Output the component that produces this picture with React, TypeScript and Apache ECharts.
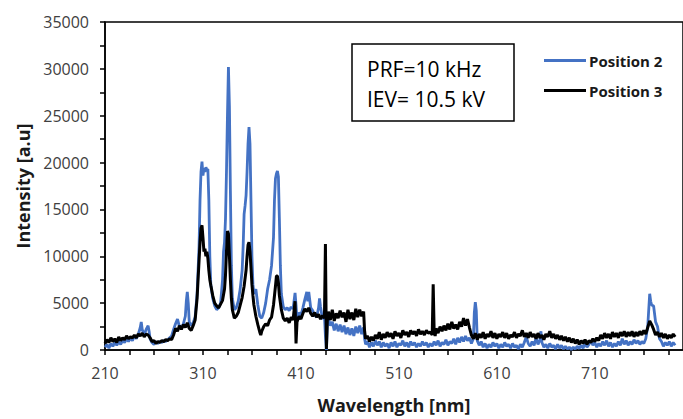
import React, { useEffect, useRef } from "react";
import * as echarts from "echarts";

const xTickLabels = [210, 310, 410, 510, 610, 710];
const yMax = 35000;
const yStep = 5000;

// Position 2 (blue): [wavelength nm, intensity a.u.]
const position2: [number, number][] = [
  [210, 300], [212, 600], [214, 200], [216, 700], [218, 400], [220, 800], [222, 500], [224, 900], [226, 600], [228, 1000],
  [230, 800], [232, 1200], [234, 900], [236, 1300], [238, 1000], [240, 1500], [242, 1200], [244, 1700], [246, 2400], [247, 3000],
  [248, 2200], [250, 1600], [252, 2200], [254, 2600], [255, 2000], [256, 1200], [258, 800], [260, 600], [262, 900], [264, 700],
  [266, 900], [268, 800], [270, 1000], [272, 900], [274, 1100], [276, 1300], [278, 1500], [280, 2200], [282, 2800], [284, 3300],
  [286, 2500], [288, 2300], [290, 2800], [292, 3600], [293, 5200], [294, 6200], [295, 5000], [296, 3000], [298, 2600], [300, 2900],
  [302, 3500], [304, 6000], [306, 11000], [307, 16000], [308, 19000], [309, 20100], [310, 18600], [311, 19400], [312, 19000], [313, 19500],
  [314, 19200], [315, 19300], [316, 16000], [317, 10000], [318, 7000], [320, 5500], [322, 4700], [324, 4300], [326, 4500], [328, 5000],
  [330, 7500], [331, 10500], [332, 11500], [333, 14000], [334, 19000], [335, 25000], [336, 30200], [337, 26000], [338, 17000], [339, 9000],
  [340, 5500], [342, 4300], [344, 4500], [346, 5200], [348, 6500], [350, 8500], [351, 11000], [352, 14500], [353, 15400], [354, 16500],
  [355, 19000], [356, 22000], [357, 23800], [358, 22000], [359, 16000], [360, 10000], [361, 7000], [362, 6000], [364, 6500], [366, 4800],
  [368, 3600], [370, 3400], [372, 4000], [374, 5000], [376, 6500], [378, 7500], [380, 9000], [382, 12000], [383, 16000], [384, 18300],
  [385, 18800], [386, 19100], [387, 18500], [388, 14000], [389, 9000], [390, 6000], [392, 4600], [394, 4300], [396, 4500], [398, 4200],
  [400, 4600], [402, 4400], [404, 6100], [405, 4800], [406, 3200], [408, 4000], [410, 3700], [412, 4500], [414, 5400], [416, 6200],
  [417, 5200], [418, 6200], [420, 4500], [422, 4200], [424, 3700], [426, 3500], [428, 4500], [429, 5500], [430, 4600], [432, 3300],
  [434, 3600], [435, 1500], [436, 0], [437, 2800], [438, 3400], [440, 2600], [442, 3000], [444, 2100], [446, 2800], [448, 2000],
  [450, 2700], [452, 1900], [454, 2600], [456, 1700], [458, 2400], [460, 1600], [462, 2300], [464, 1500], [466, 2500], [468, 1800],
  [470, 2600], [472, 1700], [474, 2400], [475, 1200], [476, 600], [478, 900], [480, 300], [482, 800], [484, 400], [486, 1000],
  [488, 500], [490, 900], [492, 300], [494, 800], [496, 400], [498, 700], [500, 200], [502, 800], [504, 400], [506, 900],
  [508, 300], [510, 700], [512, 500], [514, 1000], [516, 400], [518, 800], [520, 300], [522, 900], [524, 500], [526, 800],
  [528, 300], [530, 700], [532, 400], [534, 900], [536, 500], [538, 800], [540, 300], [542, 700], [544, 400], [546, 900],
  [548, 500], [550, 1000], [552, 400], [554, 800], [556, 600], [558, 1100], [560, 500], [562, 900], [564, 700], [566, 1200],
  [568, 600], [570, 1300], [572, 800], [574, 1400], [576, 900], [578, 1500], [580, 1000], [582, 1300], [584, 700], [586, 1200],
  [587, 4000], [588, 5100], [589, 4200], [590, 1000], [592, 500], [594, 900], [596, 300], [598, 700], [600, 200], [602, 600],
  [604, 300], [606, 800], [608, 400], [610, 700], [612, 200], [614, 600], [616, 300], [618, 800], [620, 400], [622, 600],
  [624, 200], [626, 700], [628, 300], [630, 500], [632, 100], [634, 600], [636, 300], [638, 800], [640, 1400], [642, 700],
  [644, 400], [646, 900], [648, 500], [650, 1300], [652, 600], [654, 1100], [655, 2000], [656, 800], [658, 300], [660, 600],
  [662, 200], [664, 700], [666, 300], [668, 500], [670, 100], [672, 600], [674, 200], [676, 500], [678, 100], [680, 400],
  [682, 100], [684, 300], [686, 50], [688, 300], [690, 100], [692, 400], [694, 150], [696, 500], [698, 200], [700, 700],
  [702, 300], [704, 600], [706, 1000], [708, 500], [710, 800], [712, 300], [714, 700], [716, 400], [718, 900], [720, 500],
  [722, 1000], [724, 400], [726, 800], [728, 300], [730, 700], [732, 400], [734, 900], [736, 500], [738, 1200], [740, 600],
  [742, 1000], [744, 500], [746, 900], [748, 600], [750, 1100], [752, 700], [754, 1000], [756, 600], [758, 900], [760, 700],
  [762, 1200], [764, 2500], [766, 6000], [767, 5200], [768, 4800], [770, 4700], [772, 3000], [774, 2500], [776, 1200], [778, 900],
  [780, 400], [782, 800], [784, 500], [786, 900], [788, 400], [790, 800], [792, 500]
];

// Position 3 (black): [wavelength nm, intensity a.u.]
const position3: [number, number][] = [
  [210, 700], [212, 1100], [214, 800], [216, 1300], [218, 900], [220, 1200], [222, 800], [224, 1400], [226, 1000], [228, 1300],
  [230, 1100], [232, 1500], [234, 1200], [236, 1400], [238, 1300], [240, 1600], [242, 1300], [244, 1700], [246, 1500], [248, 1800],
  [250, 1400], [252, 1700], [254, 1600], [256, 1300], [258, 900], [260, 1000], [262, 700], [264, 900], [266, 800], [268, 1000],
  [270, 900], [272, 1100], [274, 1000], [276, 1200], [278, 1100], [280, 1600], [282, 2300], [284, 2000], [286, 2600], [288, 2200],
  [290, 2700], [292, 2400], [294, 2900], [296, 2300], [298, 2100], [300, 2600], [302, 3200], [304, 5500], [306, 9500], [307, 11500],
  [308, 13000], [309, 13300], [310, 12000], [311, 10500], [312, 10800], [313, 10000], [314, 10500], [315, 9800], [316, 8500], [317, 7500],
  [318, 6900], [320, 5800], [322, 5000], [324, 4700], [326, 4500], [328, 4900], [330, 5300], [332, 6500], [333, 8000], [334, 10500],
  [335, 12700], [336, 12400], [337, 10000], [338, 7500], [339, 5500], [340, 4300], [342, 3400], [344, 3600], [346, 4000], [348, 4800],
  [350, 5600], [352, 6800], [354, 8500], [355, 10000], [356, 11200], [357, 11500], [358, 10500], [359, 8800], [360, 7000], [361, 5800],
  [362, 4800], [364, 3600], [366, 2700], [368, 1900], [369, 1600], [370, 2000], [372, 2500], [374, 2800], [376, 2600], [378, 3200],
  [380, 3500], [382, 4800], [384, 6800], [385, 7900], [386, 7900], [387, 7200], [388, 5800], [390, 4300], [392, 3400], [394, 3100],
  [396, 3400], [398, 2900], [400, 3500], [402, 3200], [404, 5200], [405, 700], [406, 3000], [408, 3600], [410, 3300], [412, 3900],
  [414, 4400], [416, 4100], [418, 4500], [420, 3900], [422, 3600], [424, 4000], [426, 3500], [428, 3800], [430, 3300], [432, 3700],
  [434, 3400], [435, 11300], [436, 100], [437, 3300], [438, 4100], [440, 3200], [442, 4300], [444, 3100], [446, 3900], [448, 3400],
  [450, 4200], [452, 3500], [454, 4000], [456, 3000], [458, 4300], [460, 3300], [462, 4000], [464, 3200], [466, 4400], [468, 3500],
  [470, 4300], [472, 3600], [474, 4100], [475, 2000], [476, 1200], [478, 1500], [480, 900], [482, 1400], [484, 1000], [486, 1600],
  [488, 1200], [490, 1900], [492, 1100], [494, 1700], [496, 1300], [498, 1900], [500, 1400], [502, 1800], [504, 1200], [506, 2000],
  [508, 1500], [510, 1800], [512, 1300], [514, 2100], [516, 1600], [518, 1900], [520, 1400], [522, 2100], [524, 1700], [526, 2000],
  [528, 1500], [530, 2200], [532, 1700], [534, 2000], [536, 1600], [538, 2100], [540, 1800], [542, 1900], [544, 1600], [545, 7000],
  [546, 2000], [547, 1500], [548, 2300], [550, 1800], [552, 2500], [554, 2000], [556, 2600], [558, 2100], [560, 2800], [562, 2200],
  [564, 3000], [566, 2300], [568, 2700], [570, 2200], [572, 3000], [574, 2500], [576, 3400], [578, 2600], [580, 3300], [582, 2400],
  [584, 1600], [586, 1200], [588, 1800], [590, 1100], [592, 1700], [594, 1300], [596, 1900], [598, 1200], [600, 1700], [602, 1400],
  [604, 2000], [606, 1300], [608, 1800], [610, 1200], [612, 1700], [614, 1400], [616, 1900], [618, 1300], [620, 1800], [622, 1200],
  [624, 1600], [626, 1400], [628, 1900], [630, 1300], [632, 1700], [634, 1500], [636, 2100], [638, 1400], [640, 1800], [642, 1300],
  [644, 1900], [646, 1400], [648, 1700], [650, 1200], [652, 1800], [654, 1300], [656, 1600], [658, 1100], [660, 1700], [662, 1400],
  [664, 2000], [666, 1300], [668, 1700], [670, 1200], [672, 1600], [674, 1100], [676, 1500], [678, 1000], [680, 1400], [682, 900],
  [684, 1300], [686, 800], [688, 1200], [690, 700], [692, 1100], [694, 600], [696, 1000], [698, 700], [700, 1100], [702, 600],
  [704, 1000], [706, 800], [708, 1200], [710, 900], [712, 1300], [714, 1000], [716, 1600], [718, 1200], [720, 1800], [722, 1300],
  [724, 1700], [726, 1200], [728, 1900], [730, 1400], [732, 1800], [734, 1300], [736, 1900], [738, 1500], [740, 2000], [742, 1400],
  [744, 1900], [746, 1500], [748, 2000], [750, 1400], [752, 1900], [754, 1500], [756, 2000], [758, 1600], [760, 2100], [762, 1700],
  [764, 2400], [766, 3100], [768, 2700], [770, 2200], [772, 1600], [774, 1900], [776, 1400], [778, 1800], [780, 1300], [782, 1700],
  [784, 1200], [786, 1600], [788, 1300], [790, 1700], [792, 1400]
];

const seriesNames = ["Position 2", "Position 3"];
const annotationLines = ["PRF=10 kHz", "IEV= 10.5 kV"];

export default function App() {
  const ref = useRef<HTMLDivElement>(null);
  useEffect(() => {
    if (!ref.current) return;
    const chart = echarts.init(ref.current, null, { renderer: "svg" });
    const xMinorTicks: number[] = [];
    for (let v = 210; v <= 800; v += 25) xMinorTicks.push(v);
    const font = "Open Sans";
    chart.setOption({
      animation: false,
      backgroundColor: "#fff",
      grid: {
        left: 105,
        top: 22,
        width: 587,
        height: 330,
        show: true,
        borderColor: "#000",
        borderWidth: 1.5,
        containLabel: false,
      },
      xAxis: {
        type: "value",
        min: 210,
        max: 800,
        axisLine: { show: true, lineStyle: { color: "#000", width: 1.5 } },
        axisTick: { show: true, customValues: xMinorTicks, length: 5, lineStyle: { color: "#000", width: 1.5 } },
        axisLabel: { customValues: xTickLabels, fontSize: 16, color: "#404040", fontFamily: font, margin: 15, formatter: (v: number) => String(v) },
        splitLine: { show: false },
        name: "Wavelength [nm]",
        nameLocation: "middle",
        nameGap: 46,
        nameTextStyle: { fontSize: 18, fontWeight: "bold", color: "#1a1a1a", fontFamily: font },
      },
      yAxis: {
        type: "value",
        min: 0,
        max: yMax,
        interval: yStep,
        axisLine: { show: true, lineStyle: { color: "#000", width: 1.5 } },
        axisTick: { show: true, length: 5, lineStyle: { color: "#000", width: 1.5 } },
        minorTick: { show: true, splitNumber: 2, length: 5, lineStyle: { color: "#000", width: 1.5 } },
        axisLabel: { fontSize: 16, color: "#404040", fontFamily: font, margin: 16, formatter: (v: number) => String(v) },
        splitLine: { show: false },
        minorSplitLine: { show: false },
        name: "Intensity [a.u]",
        nameLocation: "middle",
        nameGap: 72,
        nameTextStyle: { fontSize: 18, fontWeight: "bold", color: "#1a1a1a", fontFamily: font },
      },
      legend: {
        orient: "vertical",
        left: 539,
        top: 48,
        itemWidth: 42,
        itemHeight: 3,
        itemGap: 15,
        icon: "rect",
        data: seriesNames,
        textStyle: { fontSize: 15, fontWeight: "bold", color: "#1a1a1a", fontFamily: font, padding: [0, 0, 0, -2] },
      },
      graphic: [
        {
          type: "rect",
          x: 352,
          y: 44,
          shape: { width: 162, height: 77 },
          style: { fill: "#fff", stroke: "#000", lineWidth: 1.5 },
          z: 10,
        },
        {
          type: "text",
          x: 367,
          y: 69,
          style: { text: annotationLines[0], fontSize: 21, fontFamily: font, fill: "#000", verticalAlign: "middle" },
          z: 11,
        },
        {
          type: "text",
          x: 367,
          y: 99,
          style: { text: annotationLines[1], fontSize: 21, fontFamily: font, fill: "#000", verticalAlign: "middle" },
          z: 11,
        },
      ],
      series: [
        {
          name: seriesNames[0],
          type: "line",
          data: position2,
          showSymbol: false,
          symbol: "none",
          color: "#4472C4",
          lineStyle: { color: "#4472C4", width: 2.8 },
        },
        {
          name: seriesNames[1],
          type: "line",
          data: position3,
          showSymbol: false,
          symbol: "none",
          color: "#000",
          lineStyle: { color: "#000", width: 3 },
        },
      ],
    });
    return () => chart.dispose();
  }, []);
  return <div ref={ref} style={{ position: "fixed", left: 0, top: 0, width: 683, height: 419 }} />;
}
